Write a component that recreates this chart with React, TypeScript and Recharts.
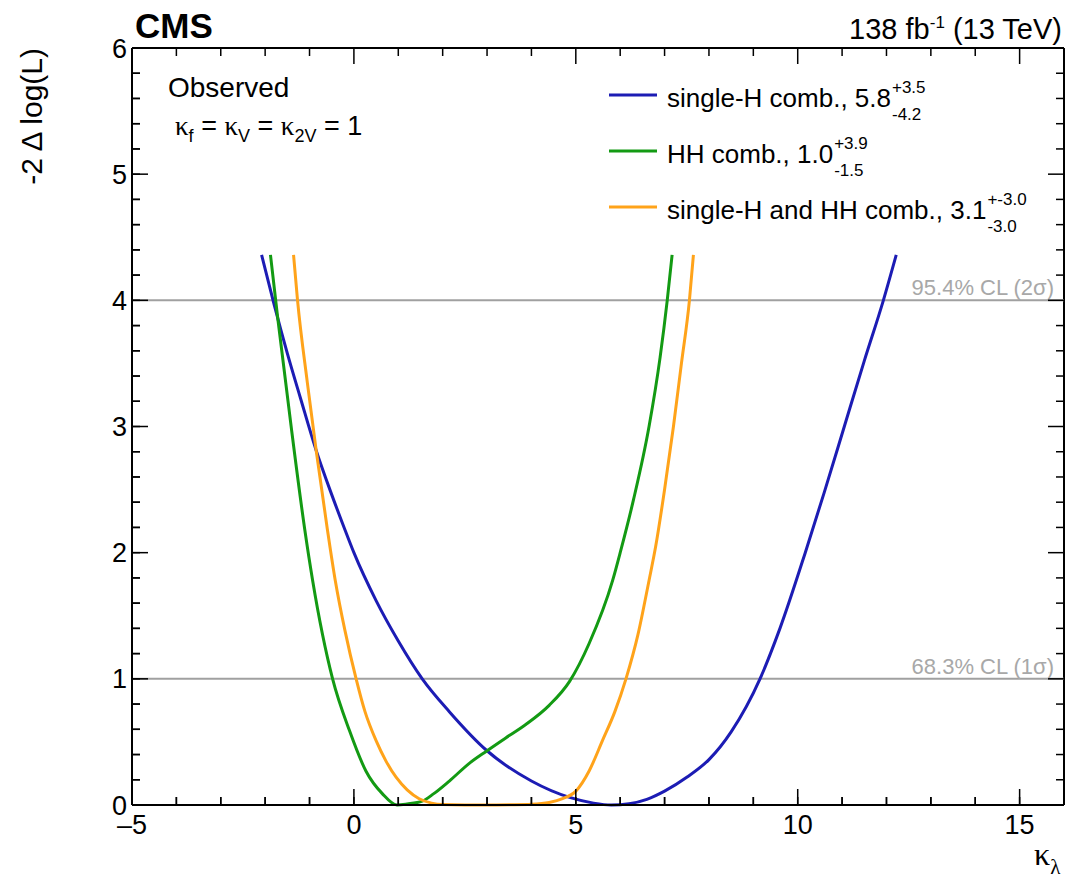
import React, { useLayoutEffect, useRef, useState } from 'react';
import { LineChart, Line, XAxis, YAxis, ReferenceLine } from 'recharts';

const W = 1066;
const H = 878;

// likelihood scans vs kappa_lambda: -2 Delta log(L)
const singleHX = [-2.08, -1.8, -1.5, -1.2, -0.85, -0.5, -0.2, 0, 0.5, 1.0, 1.54, 2.15, 3.0, 4.0, 4.86, 5.4, 5.8, 6.2, 6.6, 7.0, 7.5, 8.0, 8.5, 9.15, 9.6, 10.17, 10.6, 11.05, 11.5, 11.93, 12.22];
const singleHY = [4.36, 3.97, 3.58, 3.22, 2.81, 2.46, 2.18, 2.0, 1.62, 1.3, 1.0, 0.74, 0.43, 0.19, 0.06, 0.015, 0, 0.01, 0.045, 0.11, 0.22, 0.36, 0.58, 1.0, 1.4, 2.0, 2.48, 3.0, 3.52, 4.0, 4.36];

const hhX = [-1.88, -1.72, -1.4, -1.11, -0.93, -0.48, -0.1, 0.27, 0.64, 0.97, 1.2, 1.54, 1.8, 2.15, 2.6, 3.0, 3.5, 3.88, 4.4, 4.86, 5.3, 5.83, 6.0, 6.3, 6.65, 6.9, 7.06, 7.17];
const hhY = [4.36, 3.87, 2.96, 2.19, 1.78, 1.0, 0.59, 0.27, 0.09, 0.0, 0.008, 0.03, 0.09, 0.19, 0.33, 0.43, 0.55, 0.64, 0.79, 0.98, 1.28, 1.78, 2.0, 2.42, 3.0, 3.55, 4.0, 4.36];

const combX = [-1.36, -1.27, -1.05, -0.85, -0.6, -0.42, -0.2, 0.05, 0.25, 0.5, 0.72, 0.95, 1.2, 1.47, 1.75, 2.0, 2.5, 3.0, 3.5, 4.0, 4.4, 4.7, 5.0, 5.3, 5.6, 5.88, 6.13, 6.4, 6.65, 6.8, 7.0, 7.2, 7.38, 7.56, 7.65];
const combY = [4.36, 4.0, 3.35, 2.81, 2.19, 1.78, 1.38, 1.0, 0.74, 0.51, 0.35, 0.22, 0.12, 0.05, 0.015, 0.003, 0, 0, 0.002, 0.006, 0.02, 0.05, 0.11, 0.27, 0.51, 0.74, 1.0, 1.35, 1.78, 2.05, 2.5, 3.0, 3.5, 4.0, 4.36];

const xTicks = [-5, -4, -3, -2, -1, 0, 1, 2, 3, 4, 5, 6, 7, 8, 9, 10, 11, 12, 13, 14, 15, 16];
const yTicks = [0, 0.2, 0.4, 0.6, 0.8, 1, 1.2, 1.4, 1.6, 1.8, 2, 2.2, 2.4, 2.6, 2.8, 3, 3.2, 3.4, 3.6, 3.8, 4, 4.2, 4.4, 4.6, 4.8, 5, 5.2, 5.4, 5.6, 5.8, 6];

const X_MIN = -5;
const X_MAX = 16;
const Y_MIN = 0;
const Y_MAX = 6;

// plot frame in page pixels (margin + axis sizes below)
const PLOT = { left: 132, right: 1064, top: 48, bottom: 805 };
const px = (v: number) => PLOT.left + ((v - X_MIN) / (X_MAX - X_MIN)) * (PLOT.right - PLOT.left);
const py = (v: number) => PLOT.bottom - ((v - Y_MIN) / (Y_MAX - Y_MIN)) * (PLOT.bottom - PLOT.top);

const BLUE = '#1c1cb4';
const GREEN = '#139a13';
const ORANGE = '#ffa31a';

const series = [
  { key: 'singleH', xs: singleHX, ys: singleHY, color: BLUE, text: 'single-H comb., 5.8', up: '+3.5', down: '-4.2' },
  { key: 'hh', xs: hhX, ys: hhY, color: GREEN, text: 'HH comb., 1.0', up: '+3.9', down: '-1.5' },
  { key: 'comb', xs: combX, ys: combY, color: ORANGE, text: 'single-H and HH comb., 3.1', up: '+-3.0', down: '-3.0' },
];

const toPoints = (xs: number[], ys: number[]) => xs.map((x, i) => ({ x, y: ys[i] }));

const isInt = (v: number) => Math.abs(v - Math.round(v)) < 1e-6;
const isMajorX = (v: number) => v % 5 === 0;
const fmtX = (v: number) => (isMajorX(v) ? (v < 0 ? '\u2013' + Math.abs(v) : String(v)) : '');
const fmtY = (v: number) => (isInt(v) ? String(Math.round(v)) : '');

const MINOR = 8;
const MAJOR = 16;

const clLabel = (text: string) => (props: any) => {
  const { viewBox } = props;
  return (
    <text x={viewBox.x + viewBox.width - 10} y={viewBox.y - 5} textAnchor="end" fontSize={22} fill="#a8a8a8">
      {text}
    </text>
  );
};

// legend entry with asymmetric errors stacked after the central value
function LegendEntry({ x, y, color, text, up, down }: any) {
  const ref = useRef<SVGTextElement>(null);
  const [w, setW] = useState(0);
  useLayoutEffect(() => {
    if (ref.current) setW(ref.current.getComputedTextLength());
  }, [text]);
  return (
    <g>
      <line x1={x - 58} x2={x - 10} y1={y - 12} y2={y - 12} stroke={color} strokeWidth={3} />
      <text ref={ref} x={x} y={y} fontSize={26}>{text}</text>
      <text x={x + w + 1} y={y - 14.5} fontSize={17}>{up}</text>
      <text x={x + w + 1} y={y + 13} fontSize={17}>{down}</text>
    </g>
  );
}

// inward ticks on all four sides of the frame
function FrameTicks() {
  const s = { stroke: '#000', strokeWidth: 1.5 };
  return (
    <g>
      {xTicks.map((v) => {
        const len = isMajorX(v) ? MAJOR : MINOR;
        const x = px(v);
        return (
          <g key={`x${v}`}>
            <line x1={x} x2={x} y1={PLOT.bottom} y2={PLOT.bottom - len} {...s} />
            <line x1={x} x2={x} y1={PLOT.top} y2={PLOT.top + len} {...s} />
          </g>
        );
      })}
      {yTicks.map((v) => {
        const len = isInt(v) ? MAJOR : MINOR;
        const y = py(v);
        return (
          <g key={`y${v}`}>
            <line x1={PLOT.left} x2={PLOT.left + len} y1={y} y2={y} {...s} />
            <line x1={PLOT.right} x2={PLOT.right - len} y1={y} y2={y} {...s} />
          </g>
        );
      })}
    </g>
  );
}

const ax = { xAxisId: 'bottom', yAxisId: 'left' };
const frameStyle = { ...ax, stroke: '#000', strokeWidth: 2, ifOverflow: 'visible' as const };

export default function App() {
  return (
    <div style={{ position: 'absolute', left: 0, top: 0, width: W, height: H, background: '#fff', fontFamily: '"Liberation Sans", Arial, sans-serif' }}>
      <LineChart width={W} height={H} margin={{ top: 48, right: 2, bottom: 43, left: 92 }}>
        <XAxis xAxisId="bottom" dataKey="x" type="number" domain={[X_MIN, X_MAX]} ticks={xTicks} interval={0}
          tickSize={-MINOR} tickMargin={18} tickLine={{ stroke: '#000', strokeWidth: 1.5 }} height={30}
          tickFormatter={fmtX} tick={{ fontSize: 27, fill: '#000' }} axisLine={{ stroke: '#000', strokeWidth: 2 }} />
        <YAxis yAxisId="left" type="number" domain={[Y_MIN, Y_MAX]} ticks={yTicks} interval={0}
          tickSize={-MINOR} tickMargin={13} tickLine={{ stroke: '#000', strokeWidth: 1.5 }} width={40}
          tickFormatter={fmtY} tick={{ fontSize: 27, fill: '#000' }} axisLine={{ stroke: '#000', strokeWidth: 2 }} />

        {/* top and right edges of the frame */}
        <ReferenceLine {...frameStyle} y={Y_MAX} />
        <ReferenceLine {...frameStyle} x={X_MAX} />

        <ReferenceLine {...ax} y={1} stroke="#a0a0a0" strokeWidth={2} label={clLabel('68.3% CL (1\u03c3)')} />
        <ReferenceLine {...ax} y={4} stroke="#a0a0a0" strokeWidth={2} label={clLabel('95.4% CL (2\u03c3)')} />
        {series.map((s) => (
          <Line key={s.key} {...ax} data={toPoints(s.xs, s.ys)} dataKey="y"
            type="monotone" stroke={s.color} strokeWidth={3} dot={false} activeDot={false}
            isAnimationActive={false} />
        ))}
      </LineChart>

      <svg width={W} height={H} style={{ position: 'absolute', left: 0, top: 0, pointerEvents: 'none' }}>
        <FrameTicks />

        <text x={135} y={38} fontSize={35} fontWeight="bold">CMS</text>
        <text x={1062} y={39} fontSize={29} textAnchor="end">
          138 fb<tspan dy={-11} fontSize={17}>-1</tspan><tspan dy={11}> (13 TeV)</tspan>
        </text>

        <text transform="translate(42, 48) rotate(-90)" textAnchor="end" fontSize={30}>{'-2 \u0394 log(L)'}</text>
        <text x={1034} y={865} fontSize={32} fontFamily='"Liberation Serif", serif'>
          {'\u03ba'}<tspan dy={9} fontSize={21}>{'\u03bb'}</tspan>
        </text>

        <text x={168} y={97} fontSize={28}>Observed</text>
        <text x={175} y={135} fontSize={27}>
          <tspan fontFamily='"Liberation Serif", serif'>{'\u03ba'}</tspan>
          <tspan dy={7} fontSize={18}>f</tspan>
          <tspan dy={-7}> = </tspan>
          <tspan fontFamily='"Liberation Serif", serif'>{'\u03ba'}</tspan>
          <tspan dy={7} fontSize={18}>V</tspan>
          <tspan dy={-7}> = </tspan>
          <tspan fontFamily='"Liberation Serif", serif'>{'\u03ba'}</tspan>
          <tspan dy={7} fontSize={18}>2V</tspan>
          <tspan dy={-7}> = 1</tspan>
        </text>

        <LegendEntry x={667} y={107} {...series[0]} />
        <LegendEntry x={667} y={163} {...series[1]} />
        <LegendEntry x={667} y={219} {...series[2]} />
      </svg>
    </div>
  );
}
